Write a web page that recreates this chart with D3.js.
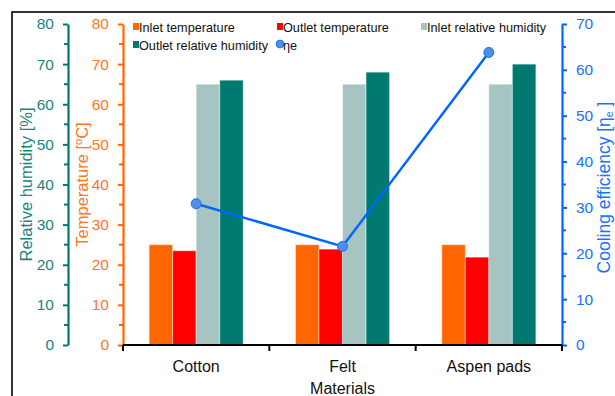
<!DOCTYPE html>
<html>
<head>
<meta charset="utf-8">
<script src="https://cdn.jsdelivr.net/npm/d3@7.9.0/dist/d3.min.js"></script>
<style>
  html, body { margin: 0; padding: 0; background: #fff; }
  svg { display: block; font-family: "Liberation Sans", Arial, sans-serif; }
</style>
</head>
<body>
<div id="chart"></div>
<script>
// ---- data ----
const materials = ['Cotton', 'Felt', 'Aspen pads'];
const inletTemp = [25, 25, 25];
const outletTemp = [23.5, 23.9, 21.9];
const inletRH = [65, 65, 65];
const outletRH = [66, 68, 70];
const efficiency = [30.8, 21.5, 63.8];

const seriesNames = ['Inlet temperature', 'Outlet temperature', 'Inlet relative humidity', 'Outlet relative humidity'];
const seriesColors = ['#ff6600', '#ff0000', '#a6c4c2', '#007a70'];
const tempTicks = d3.range(0, 81, 10);
const rhTicks = d3.range(0, 81, 10);
const effTicks = d3.range(0, 71, 10);

const width = 615, height = 396;
const plot = { left: 123, right: 562, top: 24, bottom: 345 };

const svg = d3.select('#chart').append('svg')
  .attr('width', width).attr('height', height);

// outer frame (runs off the right/bottom edge in the original)
svg.append('rect')
  .attr('x', 12).attr('y', 12).attr('width', 700).attr('height', 500)
  .attr('fill', 'none').attr('stroke', '#000').attr('stroke-width', 1.6);

// ---- scales ----
const x0 = d3.scaleBand().domain(materials).range([plot.left, plot.right]).padding(0);
const x1 = d3.scaleBand().domain(seriesNames).range([0, x0.bandwidth()]).paddingInner(0).paddingOuter(1.11);
const yTemp = d3.scaleLinear().domain([0, 80]).range([plot.bottom, plot.top]);
const yRH = d3.scaleLinear().domain([0, 80]).range([plot.bottom, plot.top]);
const yEff = d3.scaleLinear().domain([0, 70]).range([plot.bottom, plot.top]);

// ---- bars ----
const rows = materials.map((m, i) => ({
  material: m,
  values: [
    { key: seriesNames[0], v: inletTemp[i], y: yTemp },
    { key: seriesNames[1], v: outletTemp[i], y: yTemp },
    { key: seriesNames[2], v: inletRH[i], y: yRH },
    { key: seriesNames[3], v: outletRH[i], y: yRH },
  ]
}));

const groups = svg.append('g').selectAll('g')
  .data(rows).join('g')
  .attr('transform', d => `translate(${x0(d.material)},0)`);

groups.selectAll('rect')
  .data(d => d.values).join('rect')
  .attr('x', d => x1(d.key))
  .attr('width', x1.bandwidth())
  .attr('y', d => d.y(d.v))
  .attr('height', d => plot.bottom - d.y(d.v))
  .attr('fill', (d, i) => seriesColors[i])
  .attr('stroke', 'rgba(255,255,255,0.45)')
  .attr('stroke-width', 1);

// ---- axes helper: major + minor ticks ----
function drawAxis(xPos, scale, ticks, color, labelColor, side) {
  const g = svg.append('g').attr('transform', `translate(${xPos},0)`);
  const axis = (side === 'left' ? d3.axisLeft(scale) : d3.axisRight(scale))
    .tickValues(ticks).tickSizeOuter(0).tickSizeInner(5).tickPadding(9);
  g.call(axis);
  g.select('.domain').attr('stroke', color).attr('stroke-width', 2.2);
  g.selectAll('.tick line').attr('stroke', color).attr('stroke-width', 2);
  g.selectAll('.tick text')
    .attr('fill', labelColor)
    .attr('font-size', 15.5)
    .attr('font-family', '"Liberation Sans", Arial, sans-serif');
  const minor = ticks.slice(0, -1).map(t => t + 5);
  const dir = side === 'left' ? -1 : 1;
  g.append('g').selectAll('line').data(minor).join('line')
    .attr('x1', 0).attr('x2', dir * 4)
    .attr('y1', d => scale(d)).attr('y2', d => scale(d))
    .attr('stroke', color).attr('stroke-width', 2);
  return g;
}

drawAxis(68, yRH, rhTicks, '#007a70', '#1a857b', 'left');
drawAxis(plot.left, yTemp, tempTicks, '#ff6600', '#ff7722', 'left');
drawAxis(plot.right, yEff, effTicks, '#0066ff', '#1a72ff', 'right');

// ---- x axis ----
const xg = svg.append('g').attr('transform', `translate(0,${plot.bottom})`);
xg.append('line')
  .attr('x1', plot.left).attr('x2', plot.right)
  .attr('stroke', '#000').attr('stroke-width', 2.2);
const bounds = materials.map(m => x0(m)).concat([plot.right]);
xg.selectAll('line.bt').data(bounds).join('line')
  .attr('class', 'bt')
  .attr('x1', d => d).attr('x2', d => d)
  .attr('y1', 0).attr('y2', 6)
  .attr('stroke', '#000').attr('stroke-width', 2);
xg.selectAll('text').data(materials).join('text')
  .attr('x', d => x0(d) + x0.bandwidth() / 2)
  .attr('y', 27)
  .attr('text-anchor', 'middle')
  .attr('font-size', 16)
  .attr('fill', '#111')
  .text(d => d);

svg.append('text')
  .attr('x', x0('Felt') + x0.bandwidth() / 2)
  .attr('y', 394)
  .attr('text-anchor', 'middle')
  .attr('font-size', 16)
  .attr('fill', '#111')
  .text('Materials');

// ---- efficiency line ----
const line = d3.line()
  .x((d, i) => x0(materials[i]) + x0.bandwidth() / 2)
  .y(d => yEff(d));
svg.append('path')
  .datum(efficiency)
  .attr('d', line)
  .attr('fill', 'none')
  .attr('stroke', '#0066ff')
  .attr('stroke-width', 2.5);
svg.append('g').selectAll('circle')
  .data(efficiency).join('circle')
  .attr('cx', (d, i) => x0(materials[i]) + x0.bandwidth() / 2)
  .attr('cy', d => yEff(d))
  .attr('r', 5)
  .attr('fill', '#4d8fe6')
  .attr('stroke', '#1f6fe8')
  .attr('stroke-width', 1);

// ---- axis titles ----
const midY = (plot.top + plot.bottom) / 2;
svg.append('text')
  .attr('transform', `translate(32,${midY}) rotate(-90)`)
  .attr('text-anchor', 'middle')
  .attr('font-size', 16.5)
  .attr('fill', '#1a857b')
  .text('Relative humidity [%]');

const tt = svg.append('text')
  .attr('transform', `translate(88,${midY}) rotate(-90)`)
  .attr('text-anchor', 'middle')
  .attr('font-size', 16.5)
  .attr('fill', '#ff7722');
tt.append('tspan').text('Temperature [');
tt.append('tspan').attr('font-size', 11).attr('dy', -6).text('o');
tt.append('tspan').attr('dy', 6).text('C]');

const et = svg.append('text')
  .attr('transform', `translate(610,${midY + 3}) rotate(-90)`)
  .attr('text-anchor', 'middle')
  .attr('font-size', 17.5)
  .attr('fill', '#1a72ff');
et.append('tspan').text('Cooling efficiency [η');
et.append('tspan').attr('font-size', 10.5).attr('dy', 3).text('e');
et.append('tspan').attr('dy', -3).text(' ]');

// ---- legend ----
const legendItems = [
  { label: seriesNames[0], color: seriesColors[0], x: 133, y: 27, type: 'rect' },
  { label: seriesNames[1], color: seriesColors[1], x: 277, y: 27, type: 'rect' },
  { label: seriesNames[2], color: seriesColors[2], x: 421, y: 27, type: 'rect' },
  { label: seriesNames[3], color: seriesColors[3], x: 133, y: 45, type: 'rect' },
  { label: 'ηe', color: '#4d8fe6', x: 277, y: 45, type: 'circle' },
];
const lg = svg.append('g').selectAll('g').data(legendItems).join('g')
  .attr('transform', d => `translate(${d.x},${d.y})`);
lg.filter(d => d.type === 'rect').append('rect')
  .attr('x', 0).attr('y', -4).attr('width', 6).attr('height', 7)
  .attr('fill', d => d.color);
lg.filter(d => d.type === 'circle').append('circle')
  .attr('cx', 3).attr('cy', -1).attr('r', 4)
  .attr('fill', d => d.color).attr('stroke', '#1f6fe8').attr('stroke-width', 0.8);
lg.append('text')
  .attr('x', 6).attr('y', 4.5)
  .attr('font-size', 12.7)
  .attr('fill', '#111')
  .text(d => d.label);
</script>
</body>
</html>
